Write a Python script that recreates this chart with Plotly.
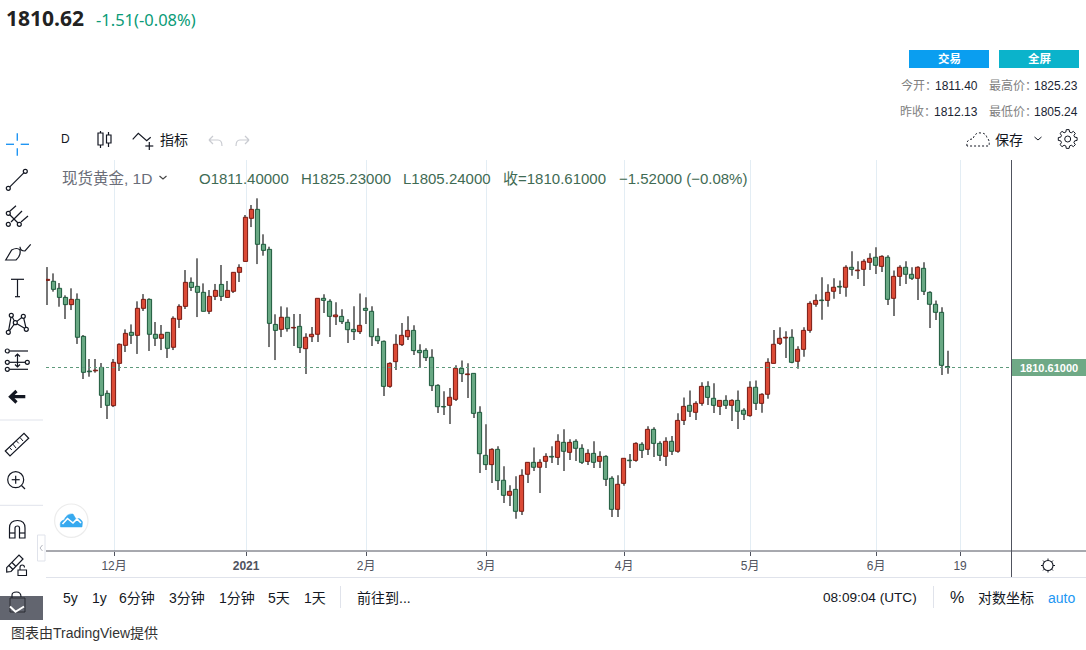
import math
import re
import plotly.graph_objects as go

# ---- daily bars (oldest first) ----
open_ = [1886.4,1885.6,1879.5,1871.6,1865.3,1869.9,1837.7,1807.5,1807.7,1810.7,1788.1,1777.4,1814.2,1829.9,1841.2,1838.6,1862.1,1869.9,1839.5,1836.0,
1841.2,1828.2,1852.5,1863.8,1884.7,1881.2,1876.0,1859.5,1872.5,1882.9,1871.6,1876.9,1893.4,1902.9,1940.4,1948.2,1917.8,1913.4,1848.1,1843.8,
1854.3,1845.0,1846.4,1827.0,1837.4,1839.5,1870.8,1868.2,1854.8,1855.1,1849.9,1843.8,1841.8,1862.1,1859.5,1837.7,1833.4,1794.2,1815.7,1830.5,
1837.4,1842.9,1825.5,1825.5,1819.5,1795.1,1776.7,1777.7,1782.9,1809.9,1804.4,1805.5,1771.6,1734.2,1726.1,1739.4,1712.5,1699.4,1704.6,1685.5,
1717.7,1728.1,1723.8,1729.0,1733.3,1732.4,1745.5,1736.8,1746.4,1740.3,1728.9,1735.9,1729.0,1733.3,1714.2,1687.2,1709.8,1730.0,1729.8,1743.8,
1739.4,1756.8,1744.6,1733.3,1746.4,1737.7,1764.6,1777.7,1771.6,1779.4,1794.2,1783.8,1776.8,1782.0,1777.7,1782.0,1773.4,1768.7,1793.4,1779.4,
1787.3,1814.2,1831.6,1836.3,1836.9,1816.0,1826.4,1842.9,1865.6,1869.3,1869.0,1876.9,1881.2,1880.4,1897.8,1894.8,1896.0,1902.1,1906.5,1898.6,
1906.5,1870.8,1889.9,1897.8,1891.7,1888.2,1896.9,1876.0,1865.6,1858.6,1811.40]
high = [1898.0,1892.5,1884.1,1873.4,1879.5,1875.1,1838.9,1818.0,1818.0,1814.5,1790.7,1818.0,1831.6,1843.8,1848.1,1868.2,1874.5,1870.8,1850.2,1847.6,
1841.2,1855.1,1865.6,1895.4,1889.0,1905.6,1883.8,1878.0,1883.3,1899.8,1885.9,1893.4,1900.4,1943.3,1952.0,1957.8,1926.5,1915.7,1856.9,1863.8,
1862.9,1857.2,1857.2,1840.3,1845.8,1870.8,1874.3,1869.9,1867.3,1861.2,1852.5,1863.8,1875.1,1871.7,1863.8,1844.7,1834.2,1815.1,1839.5,1849.3,
1855.1,1847.3,1830.8,1827.3,1826.4,1796.0,1789.9,1792.8,1812.5,1816.8,1814.2,1805.5,1776.8,1761.2,1740.3,1742.0,1724.6,1708.1,1715.9,1722.0,
1728.1,1741.1,1730.7,1735.9,1742.0,1752.5,1756.8,1748.1,1748.1,1743.8,1739.4,1746.4,1737.7,1734.2,1715.9,1716.8,1731.6,1735.4,1745.5,1745.5,
1759.4,1758.6,1746.4,1749.9,1751.0,1770.7,1784.6,1790.7,1781.2,1797.7,1798.6,1796.8,1782.0,1786.4,1782.9,1790.7,1775.1,1798.6,1799.4,1788.1,
1818.6,1843.2,1845.6,1842.1,1843.8,1829.0,1845.6,1868.2,1874.3,1889.1,1883.0,1888.2,1886.4,1899.5,1911.7,1903.0,1904.7,1910.0,1915.2,1908.2,
1908.2,1895.1,1899.5,1903.0,1897.8,1898.6,1902.1,1876.9,1869.0,1863.0,1825.23]
low = [1865.0,1876.6,1863.5,1852.8,1860.6,1831.1,1800.6,1802.6,1806.1,1775.4,1765.8,1776.2,1807.6,1824.1,1831.1,1822.4,1859.8,1825.0,1829.3,1825.8,
1818.9,1825.8,1845.0,1861.5,1877.2,1854.5,1859.5,1857.1,1869.3,1868.5,1871.3,1875.4,1885.0,1902.9,1932.8,1900.6,1907.9,1828.4,1817.1,1837.1,
1841.8,1829.3,1823.2,1804.9,1832.8,1832.8,1858.0,1837.2,1847.6,1848.5,1831.9,1834.5,1839.8,1848.5,1829.3,1831.1,1785.8,1793.1,1808.4,1829.3,
1834.5,1821.5,1810.8,1816.3,1790.2,1771.0,1769.3,1761.5,1781.5,1798.0,1784.1,1766.7,1718.8,1721.4,1710.1,1704.0,1692.7,1690.1,1679.1,1682.3,
1710.1,1720.6,1701.4,1723.2,1727.5,1725.8,1720.6,1730.1,1729.3,1726.7,1725.8,1723.2,1723.2,1707.5,1680.5,1680.5,1707.8,1723.2,1728.7,1731.9,
1734.5,1732.7,1729.3,1724.9,1734.5,1736.5,1760.6,1767.5,1764.9,1777.4,1778.0,1771.0,1769.3,1774.5,1764.1,1757.1,1764.9,1767.8,1773.6,1771.3,
1783.5,1814.2,1830.2,1818.9,1814.2,1809.6,1820.0,1840.9,1863.5,1852.2,1863.5,1870.5,1874.5,1872.2,1890.5,1887.6,1881.5,1895.4,1892.0,1893.7,
1865.0,1855.4,1881.5,1883.3,1886.7,1869.3,1873.7,1845.0,1851.9,1804.1,1805.24]
close = [1887.3,1878.6,1871.6,1865.3,1869.9,1836.9,1806.4,1806.9,1808.3,1786.4,1777.7,1815.1,1830.8,1840.3,1838.6,1862.1,1869.9,1839.5,1836.0,1839.5,
1827.3,1853.4,1863.8,1884.7,1880.3,1876.0,1859.5,1872.5,1877.7,1872.5,1877.7,1893.4,1897.7,1941.3,1948.2,1917.8,1912.5,1849.0,1842.9,1854.3,
1844.4,1845.5,1827.9,1836.9,1839.5,1870.8,1869.0,1855.1,1856.3,1850.5,1843.5,1841.8,1847.3,1860.3,1837.4,1833.9,1794.2,1814.2,1830.8,1838.6,
1842.9,1825.3,1823.5,1819.2,1794.8,1776.5,1776.3,1784.7,1809.9,1805.3,1805.0,1770.7,1735.6,1726.1,1739.4,1712.2,1699.4,1702.9,1685.5,1716.8,
1728.1,1723.8,1728.1,1733.3,1732.7,1746.4,1737.7,1745.5,1740.3,1728.1,1735.9,1728.1,1733.3,1713.3,1687.2,1709.0,1731.6,1729.5,1744.6,1738.5,
1756.8,1744.6,1734.2,1746.4,1737.7,1764.6,1776.8,1772.5,1779.4,1794.2,1784.6,1777.7,1782.0,1777.7,1782.0,1772.5,1769.9,1793.4,1779.4,1787.3,
1815.1,1830.8,1836.0,1836.9,1815.1,1826.4,1842.9,1866.4,1869.0,1868.8,1876.0,1880.4,1880.6,1897.8,1896.0,1895.4,1903.0,1905.6,1899.5,1907.3,
1869.9,1889.9,1897.8,1891.7,1888.2,1897.8,1876.9,1865.6,1858.6,1812.5,1810.61]

tick_bars = [11, 33, 53, 73, 96, 117, 138, 152]
tick_labels = ["12月", "<b>2021</b>", "2月", "3月", "4月", "5月", "6月", "19"]

UP_FILL, UP_EDGE = "#db4a36", "#7a1a12"
DOWN_FILL, DOWN_EDGE = "#68a883", "#1d5a3c"
WICK = "#767676"
W, H = 1086, 650
SANS = "'Liberation Sans','Noto Sans CJK SC',sans-serif"


def px(x):
    return x / W


def py(y):
    return 1 - y / H


shapes = []
annos = []


def path(d, color="#131722", width=1.2, fill=None, dash=None):
    toks = re.findall(r"[MLQCZ]|-?\d+\.?\d*", d)
    txt, is_x = "", True
    for t in toks:
        if t in "MLQCZ":
            txt += t + " "
            is_x = True
        elif is_x:
            txt += f"{px(float(t)):.5f},"
            is_x = False
        else:
            txt += f"{py(float(t)):.5f} "
            is_x = True
    shapes.append(dict(type="path", xref="paper", yref="paper", path=txt.strip(),
                       line=dict(color=color, width=width, dash=dash or "solid"),
                       fillcolor=fill or "rgba(0,0,0,0)", layer="above"))


def rect(x0, y0, x1, y1, fill, line=None, lw=0):
    shapes.append(dict(type="rect", xref="paper", yref="paper", x0=px(x0), x1=px(x1), y0=py(y0), y1=py(y1),
                       fillcolor=fill, line=dict(color=line or fill, width=lw), layer="above"))


def circ(cx, cy, r, color="#131722", width=1.2, fill=None):
    shapes.append(dict(type="circle", xref="paper", yref="paper", x0=px(cx - r), x1=px(cx + r), y0=py(cy - r), y1=py(cy + r),
                       line=dict(color=color, width=width), fillcolor=fill or "#ffffff", layer="above"))


def seg(x0, y0, x1, y1, color="#131722", width=1.2, dash=None):
    shapes.append(dict(type="line", xref="paper", yref="paper", x0=px(x0), x1=px(x1), y0=py(y0), y1=py(y1),
                       line=dict(color=color, width=width, dash=dash or "solid"), layer="above"))


def T(x, y, text, size=13, color="#131722", anchor="left", family=SANS):
    nudge = {"left": -1, "right": 1, "center": 0}[anchor]
    annos.append(dict(x=px(x + nudge), y=py(y), xref="paper", yref="paper", text=text, showarrow=False,
                      xanchor=anchor, yanchor="middle", borderpad=0,
                      font=dict(size=size, color=color, family=family)))


def gear(cx, cy, r_out, r_in, hole, color="#131722", width=1.1):
    pts = []
    n = 8
    for k in range(n):
        a = 2 * math.pi * k / n
        for da, r in ((-0.26, r_in), (-0.15, r_out), (0.15, r_out), (0.26, r_in)):
            pts.append((cx + r * math.cos(a + da), cy + r * math.sin(a + da)))
    d = "M " + " L ".join(f"{p[0]:.2f} {p[1]:.2f}" for p in pts) + " Z"
    path(d, color, width)
    circ(cx, cy, hole, color, width)


# ---- chart furniture ----
seg(46, 551, 1086, 551, "#50535e", 1)
seg(46, 577.5, 1086, 577.5, "#e0e3eb", 1)
seg(1011.5, 160, 1011.5, 577, "#50535e", 1)
shapes.append(dict(type="line", xref="x", yref="y", x0=-0.25, x1=160.58, y0=close[-1], y1=close[-1],
                   line=dict(color="#5f9a7c", width=1, dash="dot"), layer="above"))
rect(1012, 359, 1086, 376, "#6fa986")
T(1048.5, 367.5, "<b>1810.61000</b>", 11, "#ffffff", "center")
# small sun-like settings icon on the time scale
circ(1048, 565.5, 5, "#131722", 1.1)
for k in range(8):
    a = k * math.pi / 4
    seg(1048 + 5 * math.cos(a), 565.5 + 5 * math.sin(a), 1048 + 7 * math.cos(a), 565.5 + 7 * math.sin(a), "#131722", 1)

# ---- header ----
T(5.5, 18, "<b>1810.62</b>", 21, "#222222", family="'Open Sans','Noto Sans',sans-serif")
T(96, 19.5, "-1.51(-0.08%)", 16.5, "#0a9b77", family="'Noto Sans','Open Sans',sans-serif")
rect(909, 50, 989, 68, "#0a9ef0")
rect(999, 50, 1079, 68, "#0bb3cb")
T(949, 59, "<b>交易</b>", 11.5, "#ffffff", "center")
T(1039, 59, "<b>全屏</b>", 11.5, "#ffffff", "center")
GREY = "#808080"
T(901, 85.5, "今开：", 12, GREY)
T(978, 85.5, "1811.40", 12, "#1a2433", "right")
T(989, 85.5, "最高价：", 12, GREY)
T(1078, 85.5, "1825.23", 12, "#1a2433", "right")
T(900, 112, "昨收：", 12, GREY)
T(978, 112, "1812.13", 12, "#1a2433", "right")
T(989, 112, "最低价：", 12, GREY)
T(1078, 112, "1805.24", 12, "#1a2433", "right")

# ---- top toolbar ----
T(61, 139, "D", 12, "#131722")
path("M100.5 131 L100.5 133 M98 133 L103 133 L103 145 L98 145 Z M100.5 145 L100.5 148")
path("M108.5 132 L108.5 135 M106.5 135 L111 135 L111 143 L106.5 143 Z M108.5 143 L108.5 147")
path("M132.7 139.3 L138.3 133.3 L146.7 140.7 L150.7 137.3")
seg(149.3, 142, 149.3, 150)
seg(145.3, 146, 153.3, 146)
T(160, 140, "指标", 14, "#131722")
path("M209 140 L213 136 M209 140 L213 144 M209 140 L218 140 Q222 140 222 146", "#c9cbd1", 1.2)
path("M249 140 L245 136 M249 140 L245 144 M249 140 L240 140 Q236 140 236 146", "#c9cbd1", 1.2)
path("M967 146 Q966 139 973 139 Q975 132 981 133 Q986 133 987 138 Q990 140 989 146 Z", "#131722", 1, dash="2px,2px")
T(995, 140, "保存", 14, "#131722")
path("M1034.5 137 L1038 140 L1041.5 137", "#131722", 1)
gear(1067.7, 139, 9.5, 7.2, 3, "#131722", 1)

# ---- legend line ----
LEG = "#3f6b54"
T(61.5, 179, "现货黄金, 1D", 15.5, "#6a6d78")
path("M159.5 176 L163 179 L166.5 176", "#444444", 1.1)
T(198.5, 179, "O1811.40000", 15, LEG)
T(300.5, 179, "H1825.23000", 15, LEG)
T(402.5, 179, "L1805.24000", 15, LEG)
T(502.5, 179, "收=1810.61000", 15, LEG)
T(618.5, 179, "−1.52000 (−0.08%)", 15, LEG)

# ---- left toolbar ----
BLUE = "#2196f3"
seg(6, 144.3, 14, 144.3, BLUE, 1.4)
seg(20.7, 144.3, 29, 144.3, BLUE, 1.4)
seg(17.3, 133.3, 17.3, 140.7, BLUE, 1.4)
seg(17.3, 148.3, 17.3, 155.7, BLUE, 1.4)
seg(8.3, 188.3, 25.3, 171.3)
circ(8.3, 188.3, 2)
circ(25.3, 171.3, 2)
seg(9, 212, 16, 205.7)
seg(11, 222, 22, 211)
seg(21, 222, 28, 216)
seg(9, 214, 19, 224)
circ(8.3, 213.3, 2)
circ(8.3, 224.3, 2)
circ(19.3, 224.3, 2)
path("M5.7 260 L11.7 250 Q17 247 20 250 Q21 256 16 260 Z")
path("M20 246.7 Q20 251 25 251 L30.7 244.3")
seg(11, 279.3, 24, 279.3)
seg(17.5, 279.3, 17.5, 296.7)
seg(15, 296.7, 20, 296.7)
path("M8.3 332.3 L11.3 315.3 L15.3 322.7 L23.3 316.3 L26.3 329.3 L15.3 322.7 L8.3 332.3")
for cx, cy in ((8.3, 332.3), (11.3, 315.3), (15.3, 322.7), (23.3, 316.3), (26.3, 329.3)):
    circ(cx, cy, 2)
seg(9.5, 351, 28, 351)
seg(9.5, 362.3, 25, 362.3)
seg(9.5, 369.3, 28, 369.3)
for cx, cy in ((7.3, 351), (7.3, 362.3), (7.3, 369.3), (27.3, 362.3)):
    circ(cx, cy, 2)
path("M17.5 354 L17.5 367 M15 356.5 L17.5 354 L20 356.5 M15 364.5 L17.5 367 L20 364.5")
path("M25.3 396.7 L11 396.7 M16.5 391 L10.5 396.7 L16.5 402.5", "#131722", 3.2)
seg(0, 420, 43, 420, "#e0e3eb", 1)
seg(0, 505.3, 43, 505.3, "#e0e3eb", 1)
path("M5.3 451 L24 433.3 L28.7 438.3 L10 456 Z")
for a, b, c, e in ((9.5, 447.5, 11.8, 450), (13, 444.2, 16, 448), (16.5, 441, 18.8, 443.4), (20, 437.5, 23, 441)):
    seg(a, b, c, e, "#131722", 1)
circ(15.7, 479.7, 8)
seg(11.7, 479.7, 19.7, 479.7)
seg(15.7, 475.7, 15.7, 483.7)
seg(21.5, 485.5, 25, 489)
path("M9.5 538 L9.5 528 Q9.5 520.5 17.5 520.5 Q25 520.5 25 528 L25 538 L19.5 538 L19.5 528 Q19.5 526 17.5 526 Q15 526 15 528 L15 538 Z")
seg(9.5, 533, 15, 533)
seg(19.5, 533, 25, 533)
path("M6.7 567.7 L19 555 L23 559 L11 571.5 L6.7 572 Z M9 565.5 L13 569.5 M12 562.5 L16 566.5")
rect(18, 570, 26.5, 575.5, "#ffffff", "#131722", 1.1)
path("M20 570 L20 567.5 Q20 565 22.2 565 Q24.5 565 24.5 567.5", "#131722", 1.1)
rect(0, 596, 43, 620, "#62656f")
path("M12 598 L12 595 Q12 592 16.5 592 Q21 592 21 597", "#131722", 1.1)
path("M10 598 L25 598 L25 612 L10 612 Z", "#2a2c33", 1)
path("M10 606.5 L15.5 611.8 L24 606.5", "#ffffff", 2)
circ(71.3, 520.7, 16.7, "#ececec", 1.2)
path("M60.5 527 Q59 521 64 520 Q67 513 73 514 L76 519 Q80 517 82.5 522 L82 527 Z", "#36a9ef", 0.5, "#36a9ef")
path("M62.5 524 L67.5 518.5 L73 523 L77 519 L81 523", "#ffffff", 1.6)
shapes.append(dict(type="rect", xref="paper", yref="paper", x0=px(37.5), x1=px(45), y0=py(535), y1=py(561),
                   line=dict(color="#e0e3eb", width=1), fillcolor="#ffffff", layer="above"))
path("M42.5 545 L40 548 L42.5 551", "#b2b5be", 1)

# ---- bottom toolbar ----
for x, s in ((63, "5y"), (92, "1y"), (119, "6分钟"), (169, "3分钟"), (219, "1分钟"), (268, "5天"), (304, "1天"), (357, "前往到...")):
    T(x, 598, s, 14, "#131722")
seg(340.5, 586, 340.5, 608, "#e0e3eb", 1)
T(823, 597.5, "08:09:04 (UTC)", 13.6, "#131722")
seg(933.5, 586, 933.5, 608, "#e0e3eb", 1)
T(957, 597.5, "%", 16, "#131722", "center")
T(978, 598, "对数坐标", 14, "#131722")
T(1048, 598, "auto", 14, BLUE)
T(11, 633, "图表由TradingView提供", 14, "#333333")

# ---- traces ----
idx = list(range(len(close)))
wick_h = [h - l for h, l in zip(high, low)]
body_b = [min(o, c) for o, c in zip(open_, close)]
body_h = [abs(o - c) for o, c in zip(open_, close)]
fills = [UP_FILL if c >= o else DOWN_FILL for o, c in zip(open_, close)]
edges = [UP_EDGE if c >= o else DOWN_EDGE for o, c in zip(open_, close)]

fig = go.Figure()
fig.add_trace(go.Bar(x=idx, y=wick_h, base=low, width=0.17, marker=dict(color=WICK, line=dict(width=0)), hoverinfo="skip"))
fig.add_trace(go.Bar(x=idx, y=body_h, base=body_b, width=0.7,
                     marker=dict(color=fills, line=dict(color=edges, width=1)), hoverinfo="skip"))

fig.update_layout(
    width=W, height=H, autosize=False, margin=dict(l=0, r=0, t=0, b=0, pad=0),
    paper_bgcolor="#ffffff", plot_bgcolor="#ffffff", showlegend=False, barmode="overlay",
    xaxis=dict(domain=[px(46), px(1011)], range=[-0.25, 160.58], tickmode="array",
               tickvals=[t + 0.1 for t in tick_bars], ticktext=tick_labels, showgrid=True, gridcolor="#e3edf4", gridwidth=1,
               ticks="outside", ticklen=4, tickcolor="#50535e", tickwidth=1, zeroline=False, showline=False,
               tickfont=dict(size=12, color="#50535e", family=SANS), fixedrange=True, anchor="y"),
    yaxis=dict(domain=[py(551), py(160)], range=[1650.96, 1991.14], showgrid=False, showticklabels=False,
               ticks="", zeroline=False, showline=False, fixedrange=True),
    shapes=shapes, annotations=annos, font=dict(family=SANS),
)
fig.write_html("out.html", config={"displayModeBar": False},
               post_script="document.body.style.margin='0';document.body.style.overflow='hidden';")
